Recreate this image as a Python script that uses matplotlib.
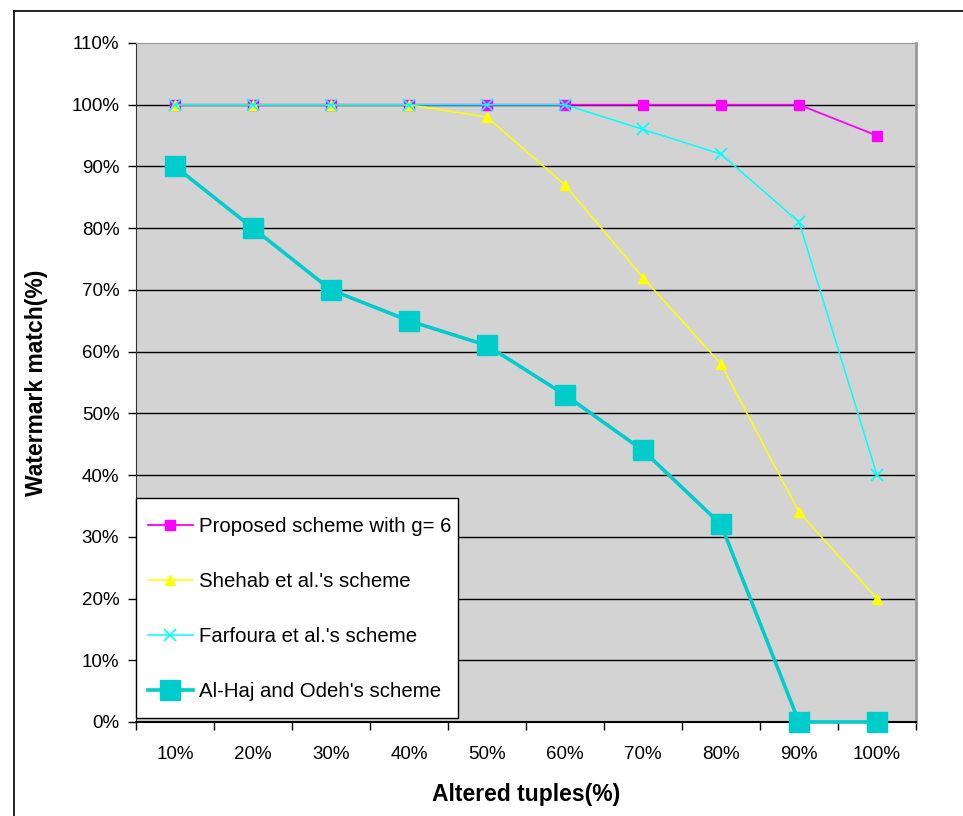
import matplotlib.pyplot as plt
from matplotlib.lines import Line2D
from matplotlib.patches import Rectangle

plt.rcParams['font.family'] = ['Liberation Sans', 'DejaVu Sans']

categorias = ["10%", "20%", "30%", "40%", "50%", "60%", "70%", "80%", "90%", "100%"]
propuesto = [100, 100, 100, 100, 100, 100, 100, 100, 100, 95]
shehab = [100, 100, 100, 100, 98, 87, 72, 58, 34, 20]
farfoura = [100, 100, 100, 100, 100, 100, 96, 92, 81, 40]
alhaj = [90, 80, 70, 65, 61, 53, 44, 32, 0, 0]
y_ticks = list(range(0, 111, 10))

fig = plt.figure(figsize=(9.63, 8.16), dpi=100)
ax = fig.add_axes([136/963, 1 - 722/816, 780/963, 679/816])
ax.set_facecolor("#D3D3D3")

x = list(range(len(categorias)))

ax.plot(x, propuesto, color="#FF00FF", lw=1.3, marker="s", ms=6.5,
        label="Proposed scheme with g= 6", clip_on=False, zorder=3)
ax.plot(x, shehab, color="#FFFF00", lw=1.1, marker="^", ms=7.5,
        label="Shehab et al.'s scheme", clip_on=False, zorder=4)
ax.plot(x, farfoura, color="#00FFFF", lw=1.1, marker="x", ms=8, mew=1.2,
        label="Farfoura et al.'s scheme", clip_on=False, zorder=5)
ax.plot(x, alhaj, color="#00CCCC", lw=2.6, marker="s", ms=15,
        label="Al-Haj and Odeh's scheme", clip_on=False, zorder=6)

ax.set_xlim(-0.5, len(categorias) - 0.5)
ax.set_ylim(0, 110)

for v in y_ticks[1:-1]:
    ax.axhline(v, color="black", lw=1.0, zorder=1)

ax.set_yticks(y_ticks)
ax.set_yticklabels([f"{v}%" for v in y_ticks])
ax.set_xticks([i - 0.5 for i in range(len(categorias) + 1)])
ax.set_xticklabels([])
ax.set_xticks(x, minor=True)
ax.set_xticklabels(categorias, minor=True)
ax.tick_params(axis="x", which="major", direction="out", length=6, width=1)
ax.tick_params(axis="x", which="minor", length=0, pad=17, labelsize=13.5)
ax.tick_params(axis="y", direction="out", length=6, width=1, labelsize=13.5, pad=6)

ax.spines["left"].set_color("#333333")
ax.spines["bottom"].set_color("black")
ax.spines["bottom"].set_linewidth(1.5)
ax.spines["top"].set_color("#999999")
ax.spines["right"].set_color("#999999")
ax.spines["right"].set_linewidth(2)

ax.set_xlabel("Altered tuples(%)", fontsize=16.5, fontweight="bold", labelpad=15)
ax.set_ylabel("Watermark match(%)", fontsize=16.5, fontweight="bold", labelpad=17)

# caja de la leyenda
caja = Rectangle((136/963, 1 - 718/816), 322/963, 220/816, transform=fig.transFigure,
                 facecolor="white", edgecolor="black", lw=1, zorder=10, clip_on=False)
ax.add_patch(caja)

leg = ax.legend(loc="upper left", bbox_to_anchor=(148/963, 1 - 517/816),
                bbox_transform=fig.transFigure, borderaxespad=0, borderpad=0,
                fontsize=14.7, frameon=False, labelspacing=1.76, handlelength=2.2,
                handletextpad=0.3)
leg.set_zorder(11)

# marco del grafico
fig.add_artist(Line2D([14/963, 14/963], [0, 1 - 11/816], color="black", lw=1.2))
fig.add_artist(Line2D([14/963, 1], [1 - 11/816, 1 - 11/816], color="black", lw=1.2))

fig.savefig("out.png", dpi=100)
